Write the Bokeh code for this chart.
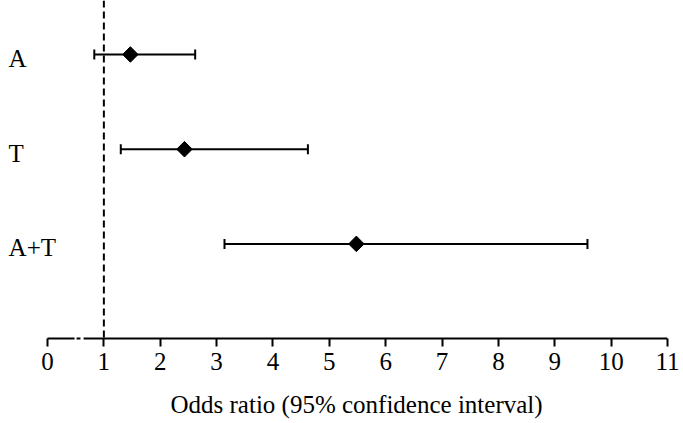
from bokeh.plotting import figure
from bokeh.models import (FixedTicker, Span, Whisker, TeeHead, ColumnDataSource,
                          LabelSet, Range1d, Title)
from bokeh.core.properties import value
from bokeh.embed import file_html
from bokeh.resources import INLINE
import numpy as np

# ---- data ----
groups = ["A", "T", "A+T"]
group_pos = [3, 2, 1]
odds = [1.47, 2.43, 5.48]
lower = [0.83, 1.30, 3.14]
upper = [2.62, 4.62, 9.58]
x_ticks = list(range(0, 12))
ref_line = 1
x_label = "Odds ratio (95% confidence interval)"

FONT = "Liberation Serif"
FS = "25px"

# styling constants
X_START = -0.834          # leaves room on the left for the group labels
LABEL_X = -0.69
AXIS_PIECES_X0 = [0.0, 0.515, 0.64]     # axis line drawn with a small break
AXIS_PIECES_X1 = [0.48, 0.585, 11.0]

src = ColumnDataSource(dict(group=groups, y=group_pos, odds=odds, lo=lower, hi=upper,
                            lx=[LABEL_X] * len(groups)))

p = figure(width=681, height=423, x_range=Range1d(X_START, 11),
           y_range=Range1d(-0.02, 3.57),
           output_backend="svg", toolbar_location=None, y_axis_location=None,
           min_border_left=0, min_border_right=14, min_border_top=0,
           min_border_bottom=83)

p.grid.visible = False
p.outline_line_color = None

# reference line
p.add_layout(Span(location=ref_line, dimension="height", line_color="black",
                  line_width=2, line_dash="7 4"))

# x axis line (with break)
p.segment(x0=AXIS_PIECES_X0, y0=[0] * 3, x1=AXIS_PIECES_X1, y1=[0] * 3,
          line_color="black", line_width=2)

# confidence intervals
p.add_layout(Whisker(source=src, base="y", lower="lo", upper="hi", dimension="width",
                     line_color="black", line_width=2,
                     upper_head=TeeHead(size=10, line_width=2, line_color="black"),
                     lower_head=TeeHead(size=10, line_width=2, line_color="black")))

# point estimates
p.scatter("odds", "y", source=src, marker="square", angle=np.pi / 4, size=11,
          fill_color="black", line_color="black")

# group labels
p.add_layout(LabelSet(x="lx", y="y", text="group", source=src,
                      text_font=value(FONT), text_font_size=FS, text_color="black",
                      text_baseline="middle", text_align="left", y_offset=-4))

# axis
ax = p.xaxis[0]
ax.ticker = FixedTicker(ticks=x_ticks)
ax.major_label_text_font = FONT
ax.major_label_text_font_size = FS
ax.major_label_text_color = "black"
ax.major_label_standoff = 6
ax.axis_line_color = None
ax.major_tick_line_width = 2
ax.major_tick_line_color = "black"
ax.major_tick_out = 6
ax.major_tick_in = 2
ax.minor_tick_out = 0
ax.minor_tick_in = 0
# blank spacer label to push the axis title down a little
ax.axis_label = " "
ax.axis_label_text_font_size = "10px"
ax.axis_label_standoff = 2

# axis title (left aligned with offset so it sits centred under the axis line)
p.add_layout(Title(text=x_label, align="left", offset=170, text_font=FONT,
                   text_font_size=FS, text_font_style="normal", text_color="black",
                   standoff=0), "below")

open("out.html", "w").write(file_html(p, INLINE))
